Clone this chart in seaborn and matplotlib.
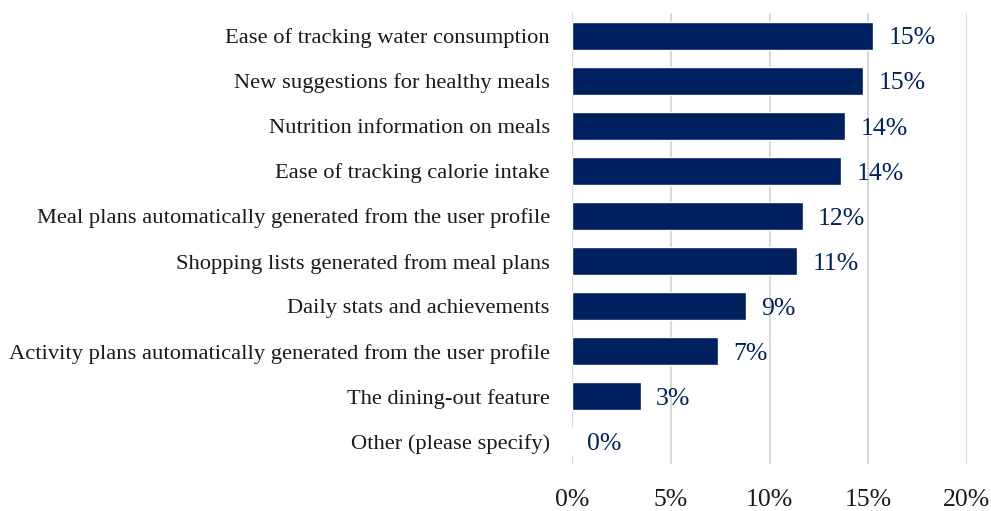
import matplotlib
matplotlib.use("Agg")
import matplotlib.pyplot as plt
import seaborn as sns
import pandas as pd
from matplotlib.ticker import FuncFormatter

features = [
    "Ease of tracking water consumption",
    "New suggestions for healthy meals",
    "Nutrition information on meals",
    "Ease of tracking calorie intake",
    "Meal plans automatically generated from the user profile",
    "Shopping lists generated from meal plans",
    "Daily stats and achievements",
    "Activity plans automatically generated from the user profile",
    "The dining-out feature",
    "Other (please specify)",
]
shares = [0.1525, 0.1474, 0.1384, 0.1364, 0.1168, 0.1141, 0.0880, 0.0740, 0.0349, 0.0]
x_ticks = [0.0, 0.05, 0.10, 0.15, 0.20]

NAVY = "#002060"

sns.set_theme(style="white")
plt.rcParams["font.family"] = ["Liberation Serif", "DejaVu Serif"]

df = pd.DataFrame({"feature": features, "share": shares})

fig = plt.figure(figsize=(9.91, 5.11), dpi=100)
ax = fig.add_axes([572 / 991, 1 - 464 / 511, (967 - 572) / 991, (464 - 13) / 511])

sns.barplot(data=df, x="share", y="feature", color=NAVY, width=0.62,
            saturation=1, ax=ax, zorder=3)

ax.set_xlim(0, 0.20)
ax.set_ylim(len(features) - 0.5, -0.5)
ax.set_xticks(x_ticks)
ax.xaxis.set_major_formatter(FuncFormatter(lambda v, _: f"{v * 100:.0f}%"))
ax.grid(axis="x", color="#d9d9d9", linewidth=1.4, zorder=0)
ax.grid(axis="y", visible=False)
for s in ax.spines.values():
    s.set_visible(False)

ax.tick_params(axis="x", length=0, pad=18, labelsize=18.5, labelcolor="#1a1a1a")
ax.tick_params(axis="y", length=0, pad=16, labelsize=16.2, labelcolor="#1a1a1a")
ax.set_xlabel("")
ax.set_ylabel("")

for i, v in enumerate(shares):
    ax.annotate(f"{v * 100:.0f}%", xy=(v, i), xytext=(11, -2), textcoords="offset points",
                ha="left", va="center", fontsize=18.5, color=NAVY)

fig.savefig("out.png", dpi=100)
